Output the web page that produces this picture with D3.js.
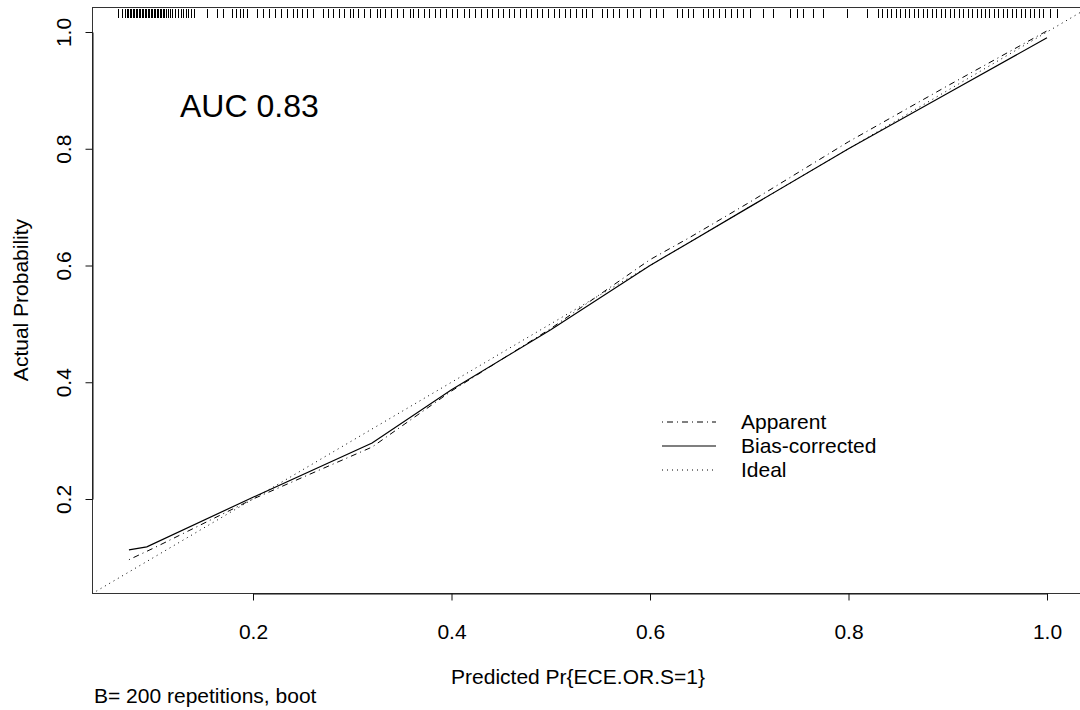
<!DOCTYPE html>
<html>
<head>
<meta charset="utf-8">
<script src="https://cdn.jsdelivr.net/npm/d3@7"></script>
<style>
  body { margin: 0; background: #fff; }
  text { font-family: "Liberation Sans", Arial, Helvetica, sans-serif; fill: #000; }
</style>
</head>
<body>
<div id="calib"></div>
<script>
// calibration curve data
var apparentX = [0.075, 0.10, 0.20, 0.32, 0.40, 0.50, 0.60, 0.64, 0.70, 0.80, 0.90, 1.00];
var apparentY = [0.096, 0.116, 0.200, 0.289, 0.385, 0.492, 0.610, 0.648, 0.708, 0.812, 0.908, 1.002];
var biasX = [0.075, 0.093, 0.20, 0.32, 0.40, 0.50, 0.60, 0.64, 0.70, 0.80, 0.90, 1.00];
var biasY = [0.113, 0.118, 0.203, 0.296, 0.387, 0.490, 0.600, 0.640, 0.700, 0.800, 0.895, 0.990];
var xTicks = [0.2, 0.4, 0.6, 0.8, 1.0];
var yTicks = [0.2, 0.4, 0.6, 0.8, 1.0];
// predicted probabilities shown as rug at top
var rugValues = [0.064, 0.068,
  0.071, 0.073, 0.074, 0.076, 0.077, 0.079, 0.080, 0.082, 0.083, 0.085, 0.086, 0.088, 0.089, 0.091,
  0.092, 0.094, 0.095, 0.097, 0.098, 0.100, 0.101, 0.103, 0.104, 0.106, 0.107, 0.109, 0.110, 0.112,
  0.114, 0.116, 0.118, 0.121, 0.124, 0.127, 0.129, 0.132, 0.135, 0.138, 0.141,
  0.154, 0.164, 0.170, 0.179, 0.183, 0.187, 0.190, 0.194,
  0.204, 0.210, 0.216, 0.222, 0.228, 0.234, 0.240, 0.244, 0.249, 0.254, 0.260,
  0.271, 0.276, 0.281, 0.287, 0.292, 0.298, 0.301, 0.306, 0.312, 0.318, 0.325,
  0.328, 0.333, 0.339, 0.345, 0.351, 0.358, 0.361, 0.366, 0.372, 0.377, 0.383, 0.388, 0.394, 0.400, 0.406,
  0.413, 0.418, 0.424, 0.430, 0.436, 0.441, 0.447, 0.452, 0.458, 0.463, 0.469, 0.475, 0.480, 0.486,
  0.491, 0.497, 0.503, 0.508, 0.514, 0.519, 0.525, 0.531, 0.536, 0.542,
  0.552, 0.557, 0.563, 0.569, 0.577, 0.583, 0.590, 0.600, 0.606, 0.613,
  0.627, 0.632, 0.638, 0.643, 0.653, 0.658, 0.663, 0.670, 0.676, 0.682, 0.688, 0.694, 0.701,
  0.714, 0.724, 0.741, 0.748, 0.754, 0.764, 0.774, 0.798, 0.819,
  0.830, 0.834, 0.839, 0.843, 0.848, 0.852, 0.857, 0.861, 0.866, 0.870, 0.875, 0.879, 0.884, 0.888,
  0.893, 0.897, 0.902, 0.906, 0.911, 0.915, 0.920, 0.924, 0.929, 0.933, 0.938, 0.942, 0.947, 0.951,
  0.956, 0.960, 0.965, 0.969, 0.974, 0.978, 0.983, 0.987, 0.992, 0.996, 1.003, 1.010];
var legendLabels = ['Apparent', 'Bias-corrected', 'Ideal'];

var width = 1080, height = 710;
var boxLeft = 92, boxTop = 7, boxBottom = 593, boxRight = 1090;

var svg = d3.select('#calib').append('svg')
    .attr('width', width)
    .attr('height', height);

var x = d3.scaleLinear().domain([0.2, 1.0]).range([253, 1047]);
var y = d3.scaleLinear().domain([0.2, 1.0]).range([499, 32]);

svg.append('clipPath').attr('id', 'plotclip')
  .append('rect')
    .attr('x', boxLeft).attr('y', boxTop)
    .attr('width', boxRight - boxLeft).attr('height', boxBottom - boxTop);

// box
svg.append('rect')
    .attr('x', boxLeft + 0.5).attr('y', boxTop + 0.5)
    .attr('width', boxRight - boxLeft).attr('height', boxBottom - boxTop)
    .attr('fill', 'none')
    .attr('stroke', '#333')
    .attr('stroke-width', 1);

// axes
var xaxis = d3.axisBottom(x).tickValues(xTicks).tickSize(7).tickSizeOuter(0);
var gx = svg.append('g')
    .attr('transform', 'translate(0,' + (boxBottom + 0.5) + ')')
    .call(xaxis);
gx.select('.domain').attr('stroke', '#111');
gx.selectAll('.tick line').attr('stroke', '#111');
gx.selectAll('.tick text').remove();
gx.selectAll('.tick').append('text')
    .attr('y', 45)
    .attr('text-anchor', 'middle')
    .style('font-size', '21px')
    .text(d => d3.format('.1f')(d));

var yaxis = d3.axisLeft(y).tickValues(yTicks).tickSize(7).tickSizeOuter(0);
var gy = svg.append('g')
    .attr('transform', 'translate(' + (boxLeft + 0.5) + ',0)')
    .call(yaxis);
gy.select('.domain').attr('stroke', '#111');
gy.selectAll('.tick line').attr('stroke', '#111');
gy.selectAll('.tick text').remove();
gy.selectAll('.tick').append('text')
    .attr('transform', 'translate(-22,0) rotate(-90)')
    .attr('text-anchor', 'middle')
    .style('font-size', '21px')
    .text(d => d3.format('.1f')(d));

// axis titles
svg.append('text')
    .attr('x', 578).attr('y', 684)
    .attr('text-anchor', 'middle')
    .style('font-size', '21px')
    .text('Predicted Pr{ECE.OR.S=1}');
svg.append('text')
    .attr('transform', 'translate(28,300) rotate(-90)')
    .attr('text-anchor', 'middle')
    .style('font-size', '21px')
    .text('Actual Probability');
svg.append('text')
    .attr('x', 94).attr('y', 703)
    .style('font-size', '21px')
    .text('B= 200 repetitions, boot');

var plot = svg.append('g').attr('clip-path', 'url(#plotclip)');

// rug
plot.append('g').selectAll('line')
    .data(rugValues)
    .join('line')
    .attr('x1', d => Math.round(x(d)) + 0.5).attr('x2', d => Math.round(x(d)) + 0.5)
    .attr('y1', boxTop + 2).attr('y2', boxTop + 11)
    .attr('stroke', '#000')
    .attr('stroke-width', 1);

// ideal line
var lo = x.invert(boxLeft), hi = x.invert(boxRight);
plot.append('line')
    .attr('x1', x(lo)).attr('y1', y(lo))
    .attr('x2', x(hi)).attr('y2', y(hi))
    .attr('stroke', '#000')
    .attr('stroke-width', 1)
    .attr('stroke-dasharray', '1,4');

var line = d3.line().x(d => x(d[0])).y(d => y(d[1]));

plot.append('path')
    .datum(apparentX.map((v, i) => [v, apparentY[i]]))
    .attr('d', line)
    .attr('fill', 'none')
    .attr('stroke', '#000')
    .attr('stroke-width', 1)
    .attr('stroke-dasharray', '1,4,6,4');

plot.append('path')
    .datum(biasX.map((v, i) => [v, biasY[i]]))
    .attr('d', line)
    .attr('fill', 'none')
    .attr('stroke', '#000')
    .attr('stroke-width', 1.2);

// AUC label
svg.append('text')
    .attr('x', 180).attr('y', 117)
    .style('font-size', '32px')
    .text('AUC 0.83');

// legend
var dashes = ['1,4,6,4', null, '1,4'];
var legY = [422, 446, 470];
var leg = svg.append('g');
legendLabels.forEach(function(lab, i) {
  leg.append('line')
    .attr('x1', 662).attr('x2', 716)
    .attr('y1', legY[i]).attr('y2', legY[i])
    .attr('stroke', '#000')
    .attr('stroke-width', i == 1 ? 1.2 : 1)
    .attr('stroke-dasharray', dashes[i]);
  leg.append('text')
    .attr('x', 741).attr('y', legY[i])
    .attr('dy', '0.35em')
    .style('font-size', '21px')
    .text(lab);
});
</script>
</body>
</html>
